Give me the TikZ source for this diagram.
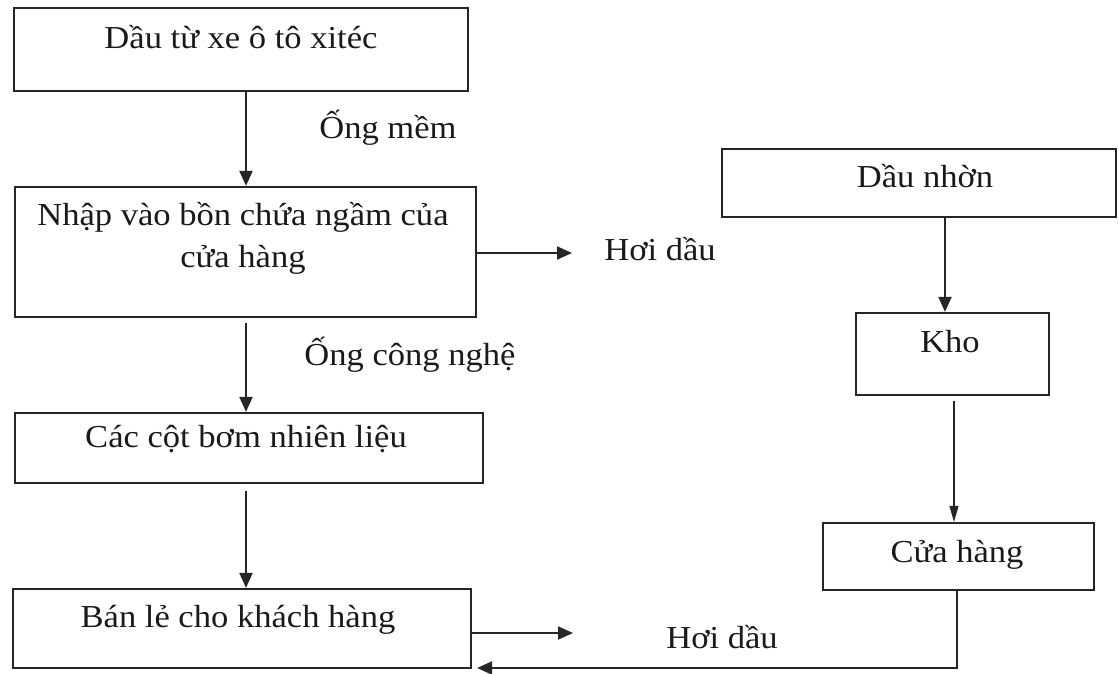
\documentclass[tikz,border=0pt]{standalone}
\usepackage{fontspec}
\setmainfont{Liberation Serif}[FakeStretch=1.08]
\usetikzlibrary{arrows.meta}
\definecolor{linec}{HTML}{262626}
\definecolor{textc}{HTML}{1A1A1A}
\begin{document}
\begin{tikzpicture}[x=1pt,y=-1pt,
  box/.style={draw=linec, line width=2.2pt, rectangle, inner sep=0pt},
  txt/.style={anchor=base, inner sep=0pt, font=\fontsize{32}{42}\selectfont, text=textc},
  arr/.style={draw=linec, line width=2pt, -{Triangle[length=15pt,width=13pt]}},
  thinarr/.style={draw=linec, line width=1.1pt, -{Triangle[length=16pt,width=9pt]}}]
\useasboundingbox (0,0) rectangle (1119,673);
% boxes
\node[box, minimum width=454pt, minimum height=83pt] (b1) at (241,49.5) {};
\node[box, minimum width=461pt, minimum height=130pt] (b2) at (245.5,252) {};
\node[box, minimum width=468pt, minimum height=70pt] (b3) at (249,448) {};
\node[box, minimum width=458pt, minimum height=79pt] (b4) at (242,628.5) {};
\node[box, minimum width=394pt, minimum height=68pt] (r1) at (919,183) {};
\node[box, minimum width=193pt, minimum height=82pt] (r2) at (952.5,354) {};
\node[box, minimum width=271pt, minimum height=67pt] (r3) at (958.5,556.5) {};
% texts
\node[txt] (t1) at (241,48) {Dầu từ xe ô tô xitéc};
\node[txt, align=center] (t2) at (243,267) {Nhập vào bồn chứa ngầm của\\cửa hàng};
\node[txt] (t3) at (246,447) {Các cột bơm nhiên liệu};
\node[txt] (t4) at (238,627) {Bán lẻ cho khách hàng};
\node[txt] (s1) at (925,187) {Dầu nhờn};
\node[txt] (s2) at (950,352) {Kho};
\node[txt] (s3) at (957,562) {Cửa hàng};
\node[txt] (l1) at (388,138) {Ống mềm};
\node[txt] (l2) at (410,365) {Ống công nghệ};
\node[txt] (l3) at (660,260) {Hơi dầu};
\node[txt] (l4) at (722,648) {Hơi dầu};
% helper coordinates
\coordinate (colL) at (246,0);
\coordinate (colA) at (945,0);
\coordinate (colB) at (954,0);
\coordinate (colC) at (957,0);
\coordinate (h1) at (572,253);
\coordinate (h2) at (573,633);
\coordinate (ret) at (957,668);
% connectors
\draw[arr] (b1.south -| colL) -- (b2.north -| colL);
\draw[arr, shorten <=5pt] (b2.south -| colL) -- (b3.north -| colL);
\draw[arr, shorten <=7pt] (b3.south -| colL) -- (b4.north -| colL);
\draw[arr] (r1.south -| colA) -- (r2.north -| colA);
\draw[thinarr, shorten <=5pt] (r2.south -| colB) -- (r3.north -| colB);
\draw[arr] (b2.east |- h1) -- (h1);
\draw[arr] (b4.east |- h2) -- (h2);
\draw[arr, shorten >=5pt] (r3.south -| colC) -- (ret) -- (b4.east |- ret);
\end{tikzpicture}
\end{document}
